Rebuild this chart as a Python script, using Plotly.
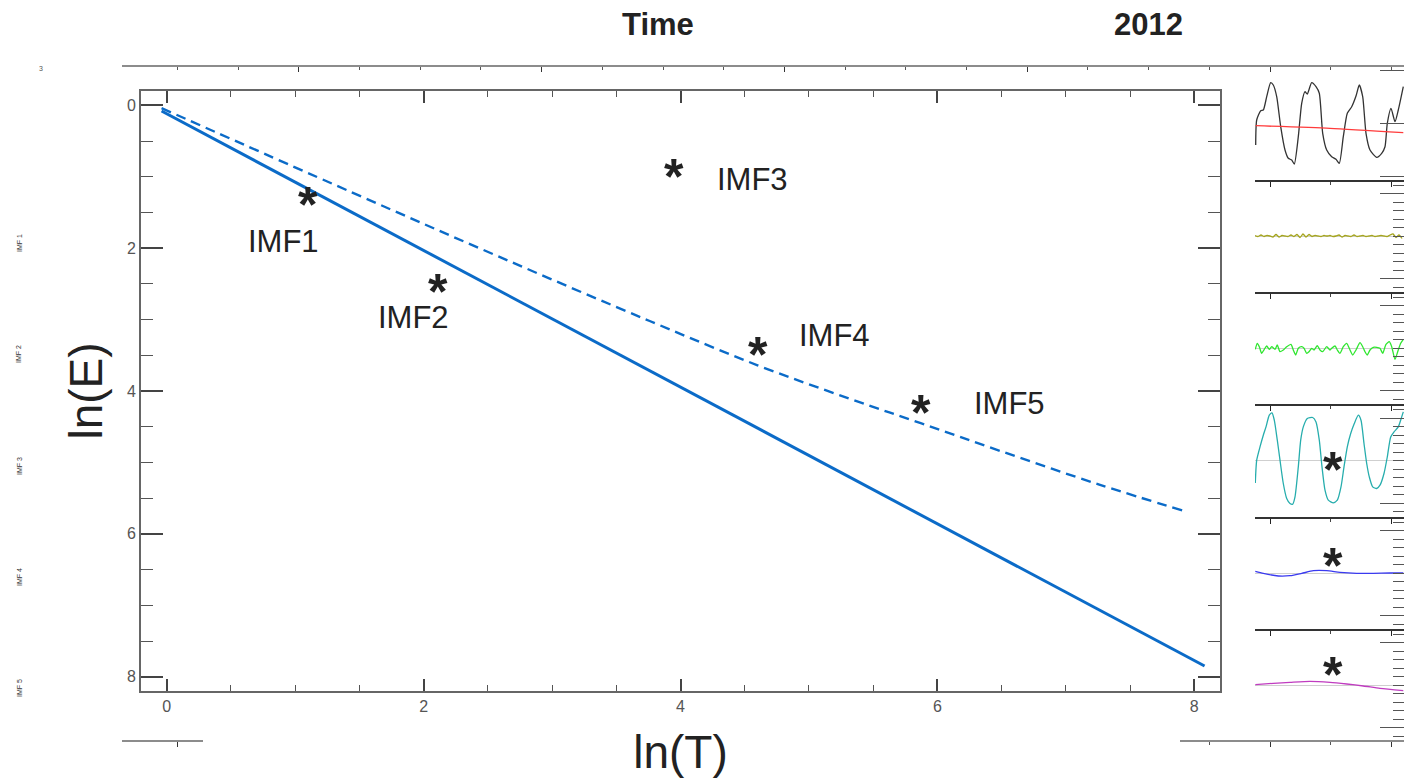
import plotly.graph_objects as go

# ---------------- main panel: ln(E) versus ln(T) ----------------
lnT_fit = [-0.04, 8.08]
lnE_fit = [0.08, 7.85]

lnT_spread = [-0.04, 1.43, 2.60, 3.76, 4.60, 5.32, 5.87, 6.49, 7.26, 7.92]
lnE_spread = [0.04, 1.21, 2.13, 3.02, 3.64, 4.11, 4.45, 4.84, 5.31, 5.68]

imf_names = ["IMF1", "IMF2", "IMF3", "IMF4", "IMF5"]
imf_lnT = [1.10, 2.11, 3.95, 4.60, 5.87]
imf_lnE = [1.28, 2.50, 0.89, 3.38, 4.20]

# ---------------- decomposition strip (sample index / amplitude) ----------------
n_sig = [0.7, 1.7, 5.7, 8.3, 11.7, 15.7, 18.3, 21.7, 25.7, 30, 33.3, 36.7, 39.3, 43.3,
         46.7, 50, 52.3, 56.7, 61, 64.3, 67.7, 71.7, 76.7, 81, 84.3, 88.3, 92.3, 96.7,
         101, 104.3, 107.7, 111, 115, 121.7, 126.7, 130, 132.3, 136, 140, 143.3, 148.3]
v_sig = [-21.5, 3.5, 12.8, 13.5, 26.8, 40.8, 38.5, 26.8, -3.2, -26.5, -34.8, -36.5, -40.5,
         -13.2, 20.2, 31.8, 29.5, 40.8, 36.8, 30.2, -9.8, -26.5, -33.2, -35.8, -39.8, -13.2,
         10.2, 16.8, 27.5, 38.5, 26.8, -9.8, -26.5, -33.8, -29.8, -23.2, 0.2, 15.2, 1.8,
         13.5, 36.8]
n_trend = [0.7, 75, 148.3]
v_trend = [-2.2, -4.8, -9.2]

n_imf1 = [0, 3, 6, 9, 12, 15, 18, 21, 24, 27, 30, 33, 36, 39, 42, 45, 48, 51, 54, 57,
          60, 63, 66, 69, 72, 75, 78, 81, 84, 87, 90, 93, 96, 99, 102, 105, 108, 111,
          114, 117, 120, 123, 126, 129, 132, 135, 138, 141, 144, 147]
v_imf1 = [0.5, -0.5, 1.0, -0.5, 0.5, 0.0, -1.0, 1.5, -1.0, 0.5,
          0.0, -0.5, 1.0, -0.5, 1.5, -1.5, 2.0, -1.0, 1.5, -0.5,
          0.5, 0.0, -0.5, 0.5, 0.0, 0.5, -0.5, 0.0, 1.0, -1.0,
          0.5, 0.0, -0.5, 1.0, -0.5, 0.0, 0.5, -0.5, 0.0, 0.5,
          -0.5, 0.0, 0.5, 0.0, -0.5, 1.0, 2.0, -1.5, 1.0, -2.5]

n_imf2 = [0.3, 2.3, 4.3, 6.7, 9.3, 11.7, 14.3, 16.7, 20, 22.3, 25, 28.3, 31.7, 36, 38.3,
          40.7, 43.3, 46.7, 49, 51.7, 54, 56.7, 59, 62.3, 65, 67.7, 71.7, 75, 76.7, 80,
          82.3, 85, 88.3, 91.7, 95, 97.7, 101, 105, 107.7, 110, 112.3, 115, 118.3, 121.7,
          125, 127.7, 131, 134.3, 136.7, 140, 142.7, 145.7, 148.3]
v_imf2 = [-1.3, 4.7, 1.3, -5.3, -1.3, 2, -1.3, 1.3, -1.3, 3, -3.7, -2, 1.3, 3.7, -2, -7,
          -0.3, 1.3, -0.3, -5.3, -3.7, -0.3, -2, 2.3, -2, -3.7, 1.3, -2, -0.3, 2, -2, -5.3,
          1.3, 4.7, -2, -7, -2, 5.3, 1.3, -3.7, -7, -2, 0.7, 0.7, -0.3, -5.3, 3.7, 6.3,
          1.3, -11.3, -3.7, 4.7, 8.7]

n_imf3 = [0.3, 1.7, 5, 8.3, 11, 14.3, 17, 19.3, 22.3, 25, 28.3, 31.7, 35, 37.7, 40, 43.3,
          45.7, 48.3, 52.3, 57.7, 61, 64.3, 67, 70, 73.3, 78.3, 82.3, 86, 89, 92.3, 95.7,
          99.3, 103.3, 106, 109, 111.7, 114.3, 117.7, 121.7, 125, 129, 132.3, 135.7, 139,
          143.3, 146.7, 148.3]
v_imf3 = [-22.4, 0.3, 13.6, 25.3, 33.6, 45.3, 47.6, 40.3, 20.3, 0.3, -23, -38, -43, -43.7,
          -36.4, -6.4, 20.3, 33.6, 42, 43, 38.6, 20.3, -6.4, -29.7, -39.7, -42.4, -39.7,
          -26.4, -6.4, 13.6, 27, 37, 45.3, 40.3, 17, -3, -16.4, -26.4, -28, -24.7, -13,
          3.6, 23.6, 28.6, 33.6, 43.6, 48.6]

n_imf4 = [0.3, 8.3, 23.3, 35, 46.7, 58.3, 71.7, 85, 101.7, 118.3, 135, 148.3]
v_imf4 = [1.6, -0.4, -3, -2.7, -0.4, 2.3, 2.3, 0.6, -0.4, -0.4, 0, 0]

n_imf5 = [0.3, 18.3, 35, 55, 75, 91.7, 108.3, 125, 148.3]
v_imf5 = [0.3, 1.7, 2.7, 3.7, 2.7, 1, -1, -3.3, -5.7]

# asterisks flagged on the strip: (panel, sample index, amplitude)
strip_marks = [(4, 78.3, -1.4), (5, 78.3, 15.0), (6, 78.3, 18.3)]

strip_labels = ["IMF 1", "IMF 2", "IMF 3", "IMF 4", "IMF 5"]

# ---------------- geometry helpers ----------------
W, H = 1404, 780


def fx(p):
    return p / W


def fy(p):
    return 1 - p / H


BLUE = "#0b6bc8"
INK = "#222222"
AXC = "#666666"
FONT = "Liberation Sans, Arial, sans-serif"
NARROW = "Liberation Sans Narrow, Arial Narrow, Liberation Sans, Arial, sans-serif"

fig = go.Figure()

# main panel traces
fig.add_trace(go.Scatter(x=lnT_fit, y=lnE_fit, mode="lines",
                         line=dict(color=BLUE, width=3), hoverinfo="skip"))
fig.add_trace(go.Scatter(x=lnT_spread, y=lnE_spread, mode="lines",
                         line=dict(color=BLUE, width=2.4, dash="10px,6px", shape="spline"),
                         hoverinfo="skip"))

# strip panels (pixel rows top/bottom)
rows = [(67, 180), (180, 292), (292, 404), (404, 517), (517, 629), (629, 741)]
strip_x0 = 1255
series = [
    [(n_sig, v_sig, "#333333"), (n_trend, v_trend, "#ff3b3b")],
    [(n_imf1, v_imf1, "#a5a51e")],
    [(n_imf2, v_imf2, "#2ee62e")],
    [(n_imf3, v_imf3, "#26adad")],
    [(n_imf4, v_imf4, "#3a3af0")],
    [(n_imf5, v_imf5, "#c03cc0")],
]

layout_axes = {}
for k, ((top, bot), sers) in enumerate(zip(rows, series)):
    idx = k + 2
    for xs, ys, col in sers:
        fig.add_trace(go.Scatter(x=xs, y=ys, mode="lines", xaxis=f"x{idx}", yaxis=f"y{idx}",
                                 line=dict(color=col, width=1.3, shape="spline", smoothing=0.6),
                                 hoverinfo="skip"))
    half = (bot - top) / 2
    layout_axes[f"xaxis{idx}"] = dict(
        domain=[fx(strip_x0), 1], anchor=f"y{idx}", range=[0, 149],
        showline=(k < 5), linecolor="#333333", linewidth=1.6,
        ticks="outside" if k < 5 else "", tickmode="linear", tick0=15, dtick=121.4,
        ticklen=5, tickcolor="#222", tickwidth=1.3,
        minor=dict(ticks="outside" if k < 5 else "", tick0=15, dtick=60.7,
                   ticklen=3, tickcolor="#444"),
        showticklabels=False, showgrid=False, zeroline=False, fixedrange=True)
    if k == 0:
        yt = dict(tickmode="linear", tick0=0, dtick=53, minor=dict(ticks=""))
    else:
        yt = dict(tickmode="linear", tick0=42.5, dtick=85,
                  minor=dict(ticks="inside", tick0=42.5, dtick=8.5, ticklen=11,
                             tickcolor="#555", tickwidth=1.4))
    layout_axes[f"yaxis{idx}"] = dict(
        domain=[fy(bot), fy(top)], anchor=f"x{idx}", side="right",
        range=[-half, half], showline=False, ticks="inside", ticklen=24,
        tickcolor="#555", tickwidth=1.4, showticklabels=False, showgrid=False,
        zeroline=(k > 0), zerolinecolor="#cfcfcf", zerolinewidth=1.2,
        fixedrange=True, **yt)

# background time axes (top rule, bottom rule pieces)
time_axes = [
    (8, [122, 1404], 66, [-1133, 149], 242.8),
    (9, [122, 203], 741, [-1133, -1052], 121.4),
    (10, [1180, 1404], 741, [-75, 149], 121.4),
]
for idx, (a, b), ypix, rng, big in time_axes:
    fig.add_trace(go.Scatter(x=[None], y=[None], xaxis=f"x{idx}", yaxis=f"y{idx}",
                             mode="lines", hoverinfo="skip"))
    layout_axes[f"xaxis{idx}"] = dict(
        domain=[fx(a), fx(b)], anchor="free", position=fy(ypix), range=rng,
        showline=True, linecolor="#8c8c8c", linewidth=2.4,
        ticks="outside", tickmode="linear", tick0=15, dtick=big, ticklen=5,
        tickcolor="#333", tickwidth=1.2,
        minor=dict(ticks="outside", tick0=15, dtick=60.7, ticklen=3, tickcolor="#555"),
        showticklabels=False, showgrid=False, zeroline=False, fixedrange=True)
    layout_axes[f"yaxis{idx}"] = dict(domain=[fy(ypix + 2), fy(ypix + 1)], anchor=f"x{idx}",
                                      visible=False, range=[0, 1], fixedrange=True)

annotations = []

# asterisks and labels in the main panel
label_shift = [(-24, -45), (-24, -34), (78, -11), (77, 11), (89, 2)]
for name, xv, yv, (dx, dy) in zip(imf_names, imf_lnT, imf_lnE, label_shift):
    annotations.append(dict(x=xv, y=yv, xref="x", yref="y", text="<b>*</b>", showarrow=False,
                            yshift=-8, font=dict(family=FONT, size=50, color=INK)))
    annotations.append(dict(x=xv, y=yv, xref="x", yref="y", text=name, showarrow=False,
                            xshift=dx, yshift=dy, font=dict(family=FONT, size=31, color=INK)))

for panel, xv, yv in strip_marks:
    annotations.append(dict(x=xv, y=yv, xref=f"x{panel + 1}", yref=f"y{panel + 1}",
                            text="<b>*</b>", showarrow=False, yshift=-8,
                            font=dict(family=FONT, size=50, color=INK)))

# header texts
for txt, xp in (("<b>Time</b>", 658), ("<b>2012</b>", 1148)):
    annotations.append(dict(x=fx(xp), y=fy(25), xref="paper", yref="paper", text=txt,
                            xanchor="center", yanchor="middle", showarrow=False,
                            font=dict(family=NARROW, size=31, color=INK)))
annotations.append(dict(x=fx(41), y=fy(68), xref="paper", yref="paper", text="3",
                        xanchor="center", yanchor="middle", showarrow=False,
                        font=dict(family=FONT, size=7, color="#555555")))

# side labels of the strip rows
for lab, ypix in zip(strip_labels, [243, 354, 466, 577, 688]):
    annotations.append(dict(x=fx(19), y=fy(ypix), xref="paper", yref="paper", text=lab,
                            xanchor="center", yanchor="middle", showarrow=False,
                            textangle=-90, font=dict(family=FONT, size=7, color="#333")))

fig.update_layout(
    width=W, height=H, margin=dict(l=0, r=0, t=0, b=0),
    paper_bgcolor="white", plot_bgcolor="rgba(0,0,0,0)", showlegend=False,
    xaxis=dict(domain=[fx(141), fx(1220)], anchor="y", range=[-0.2, 8.2],
               showline=True, linecolor=AXC, linewidth=2, mirror="ticks",
               ticks="inside", tickmode="linear", tick0=0, dtick=2, ticklen=12,
               tickcolor="#444", tickwidth=1.5,
               minor=dict(ticks="inside", dtick=0.5, ticklen=6, tickcolor="#555", tickwidth=1.3),
               showgrid=False, zeroline=False,
               tickfont=dict(family=FONT, size=16, color="#555"),
               title=dict(text="ln(T)", standoff=22,
                          font=dict(family=FONT, size=46, color=INK))),
    yaxis=dict(domain=[fy(691), fy(91)], anchor="x", range=[8.2, -0.2],
               showline=True, linecolor=AXC, linewidth=2, mirror="ticks",
               ticks="inside", tickmode="linear", tick0=0, dtick=2, ticklen=22,
               tickcolor="#444", tickwidth=1.5,
               minor=dict(ticks="inside", dtick=0.5, ticklen=12, tickcolor="#555", tickwidth=1.3),
               showgrid=False, zeroline=False,
               tickfont=dict(family=FONT, size=16, color="#555"),
               title=dict(text="ln(E)", standoff=10,
                          font=dict(family=FONT, size=46, color=INK))),
    annotations=annotations,
    **layout_axes,
)

fig.write_html("out.html")
